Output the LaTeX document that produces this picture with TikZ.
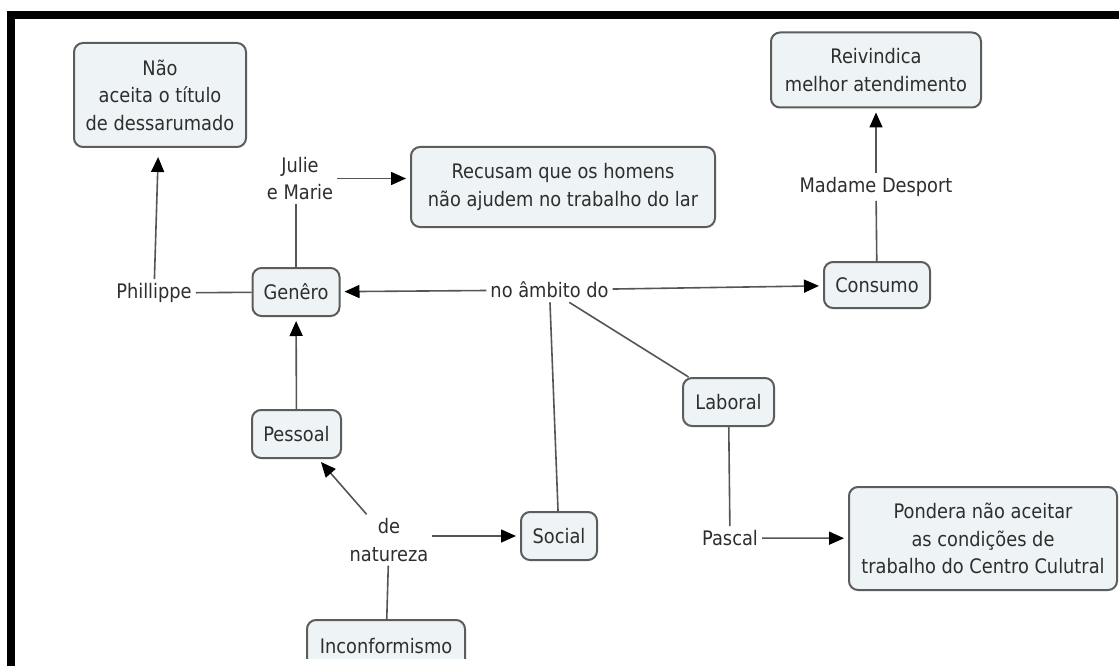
\documentclass[tikz,border=0pt]{standalone}
\usepackage{fontspec}
\setmainfont{DejaVu Sans}[FakeStretch=0.89]
\usetikzlibrary{arrows.meta}
\definecolor{boxfill}{HTML}{EEF3F6}
\definecolor{boxline}{HTML}{5C5C5C}
\definecolor{linkline}{HTML}{555555}
\definecolor{txt}{HTML}{2E2E2E}
\tikzset{
  concept/.style={draw=boxline, line width=2pt, fill=boxfill, rounded corners=9pt,
    inner sep=0pt, align=center, text=txt, font=\fontsize{20}{27.5}\selectfont},
  linklabel/.style={inner sep=4pt, align=center, text=txt, fill=white,
    font=\fontsize{20}{27.5}\selectfont},
  link/.style={draw=linkline, line width=1.6pt},
  arrowlink/.style={link, -{Triangle[length=15pt,width=13pt,color=black]}, shorten >=4pt},
}
\begin{document}
\begin{tikzpicture}[x=1pt,y=-1pt]
\useasboundingbox (0,0) rectangle (1119,666);
\fill[white] (0,0) rectangle (1119,666);
% frame
\fill[black] (7,11) rectangle (1119,19);
\fill[black] (7,11) rectangle (15,666);

% concepts
\node[concept, minimum width=172pt, minimum height=104pt] (nao) at (160,95) {Não\\aceita o título\\de dessarumado};
\node[concept, minimum width=304pt, minimum height=80pt] (recusam) at (563,187) {Recusam que os homens\\não ajudem no trabalho do lar};
\node[concept, minimum width=210pt, minimum height=75pt] (reiv) at (876,70) {Reivindica\\melhor atendimento};
\node[concept, minimum width=87pt, minimum height=48pt] (genero) at (296,292) {Genêro};
\node[concept, minimum width=106pt, minimum height=46pt] (consumo) at (877,285) {Consumo};
\node[concept, minimum width=89pt, minimum height=48pt] (pessoal) at (296.5,434) {Pessoal};
\node[concept, minimum width=91pt, minimum height=48pt] (laboral) at (728.5,402) {Laboral};
\node[concept, minimum width=76pt, minimum height=48pt] (social) at (559,536) {Social};
\node[concept, minimum width=268pt, minimum height=103pt] (pondera) at (983,538.5) {Pondera não aceitar\\as condições de\\trabalho do Centro Culutral};
\begin{scope}
\clip (0,0) rectangle (1119,658);
\node[concept, minimum width=158pt, minimum height=52pt] (incon) at (386,646) {Inconformismo};
\end{scope}

% linking phrases
\node[linklabel] (phil) at (154,293) {Phillippe};
\node[linklabel] (julie) at (300,178.5) {Julie\\e Marie};
\node[linklabel] (ambito) at (549.5,290) {no âmbito do};
\node[linklabel] (madame) at (876,187) {Madame Desport};
\node[linklabel] (pascal) at (730,538) {Pascal};
\node[linklabel] (natureza) at (389,540) {de\\natureza};

% connectors
\draw[link] (genero) -- (phil);
\draw[arrowlink, shorten >=9pt] (phil) -- (nao);
\draw[link] (genero.north) -- (genero.north |- julie.south);
\draw[arrowlink] (julie.east) -- (julie.east -| recusam.west);
\draw[arrowlink] (ambito) -- (genero);
\draw[arrowlink] (ambito) -- (consumo);
\draw[link] (consumo) -- (madame);
\draw[arrowlink] (madame) -- (reiv);
\draw[link] (ambito) -- (social);
\draw[link] (ambito) -- (laboral);
\draw[link] (laboral) -- (pascal);
\draw[arrowlink] (pascal) -- (pondera);
\draw[arrowlink] (pessoal) -- (genero);
\draw[arrowlink] (natureza) -- (pessoal);
\draw[arrowlink] (natureza.east |- social.west) -- (social.west);
\draw[link] (natureza) -- (incon);
\end{tikzpicture}
\end{document}
